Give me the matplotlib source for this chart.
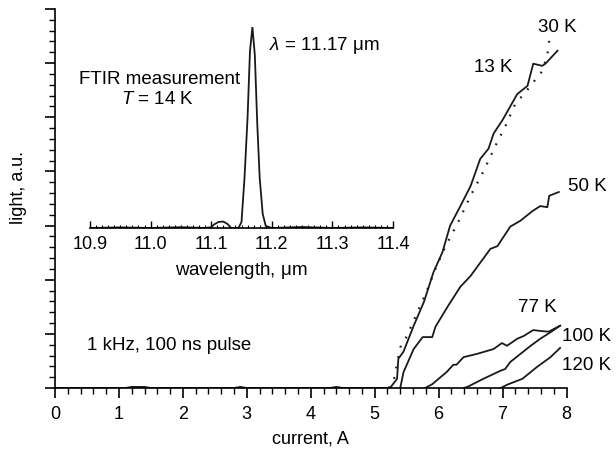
import matplotlib
matplotlib.use("Agg")
import matplotlib.pyplot as plt
from matplotlib.ticker import MultipleLocator

plt.rcParams['font.family'] = ['Liberation Sans', 'DejaVu Sans']
plt.rcParams['mathtext.fontset'] = 'custom'
plt.rcParams['mathtext.rm'] = 'Liberation Sans'
plt.rcParams['mathtext.it'] = 'Liberation Sans:italic'

# ---- data: light vs current ----
base_x = [0.0, 1.1, 1.2, 1.4, 1.5, 2.8, 2.9, 3.0, 4.3, 4.4, 4.5, 5.2]
base_y = [0.0, 0.0, 0.02, 0.02, 0.0, 0.0, 0.02, 0.0, 0.0, 0.02, 0.0, 0.0]

k13_x = [5.24, 5.35, 5.37, 5.45, 5.61, 5.77, 5.92, 6.06, 6.18, 6.34, 6.50, 6.65,
         6.78, 6.86, 7.00, 7.23, 7.39, 7.48, 7.62, 7.67, 7.86]
k13_y = [0.00, 0.17, 0.54, 0.67, 1.15, 1.59, 2.14, 2.51, 3.00, 3.36, 3.73, 4.23,
         4.42, 4.70, 4.95, 5.43, 5.58, 5.99, 5.95, 5.99, 6.23]

k30_x = [5.22, 5.30, 5.35, 5.40, 5.50, 5.65, 5.80, 5.95, 6.10, 6.30, 6.50, 6.70,
         6.90, 7.05, 7.20, 7.35, 7.45, 7.55, 7.62, 7.70, 7.73]
k30_y = [0.00, 0.15, 0.45, 0.75, 0.95, 1.35, 1.75, 2.20, 2.60, 3.05, 3.55, 4.00,
         4.50, 4.85, 5.25, 5.45, 5.60, 5.75, 5.85, 6.15, 6.42]

k50_x = [5.40, 5.45, 5.61, 5.75, 5.90, 5.95, 6.15, 6.34, 6.50, 6.81, 6.92, 7.12,
         7.28, 7.47, 7.59, 7.70, 7.73, 7.88]
k50_y = [0.00, 0.29, 0.72, 0.94, 0.94, 1.13, 1.52, 1.87, 2.07, 2.57, 2.62, 2.98,
         3.09, 3.27, 3.36, 3.34, 3.55, 3.62]

k77_x = [5.79, 5.90, 6.13, 6.23, 6.28, 6.39, 6.60, 6.86, 6.99, 7.07, 7.23, 7.33,
         7.48, 7.62, 7.72, 7.90]
k77_y = [0.00, 0.07, 0.30, 0.43, 0.43, 0.57, 0.63, 0.72, 0.83, 0.78, 0.91, 0.96,
         1.07, 1.05, 1.04, 1.15]

k100_x = [6.39, 6.45, 6.70, 6.97, 7.04, 7.12, 7.28, 7.44, 7.59, 7.75, 7.90]
k100_y = [0.00, 0.02, 0.17, 0.32, 0.35, 0.48, 0.63, 0.78, 0.91, 1.03, 1.15]

k120_x = [6.97, 7.07, 7.31, 7.54, 7.75, 7.90]
k120_y = [0.00, 0.06, 0.17, 0.39, 0.57, 0.74]

# ---- data: FTIR spectrum ----
wl = [10.90, 10.95, 11.00, 11.05, 11.09, 11.100, 11.105, 11.112, 11.120, 11.127,
      11.133, 11.145, 11.150, 11.155, 11.160, 11.164, 11.168, 11.172, 11.176,
      11.180, 11.185, 11.190, 11.20, 11.25, 11.30, 11.35, 11.40]
spec = [0.0, 0.003, 0.0, 0.004, 0.0, 0.004, 0.018, 0.03, 0.032, 0.02,
        0.0, 0.0, 0.03, 0.25, 0.55, 0.88, 1.0, 0.86, 0.52, 0.25, 0.07, 0.01,
        0.0, 0.005, 0.0, 0.003, 0.0]

fig = plt.figure(figsize=(6.16, 4.52), dpi=100)
ax = fig.add_axes([55/616, 1-389/452, (566.5-55)/616, (389-10)/452])

lw = 1.3
col = '#1a1a1a'
ax.plot(base_x, base_y, color=col, lw=lw)
ax.plot(k13_x, k13_y, color=col, lw=lw)
ax.plot(k30_x, k30_y, color=col, lw=1.6, linestyle=(0, (0.8, 4)))
ax.plot(k50_x, k50_y, color=col, lw=lw)
ax.plot(k77_x, k77_y, color=col, lw=lw)
ax.plot(k100_x, k100_y, color=col, lw=lw)
ax.plot(k120_x, k120_y, color=col, lw=lw)

ax.set_xlim(0, 8)
ax.set_ylim(0, 7)
ax.spines['top'].set_visible(False)
ax.spines['right'].set_visible(False)
for s in ('left', 'bottom'):
    ax.spines[s].set_linewidth(1.2)
ax.xaxis.set_major_locator(MultipleLocator(1))
ax.xaxis.set_minor_locator(MultipleLocator(0.2))
ax.yaxis.set_major_locator(MultipleLocator(1))
ax.yaxis.set_minor_locator(MultipleLocator(0.2))
ax.tick_params(axis='both', which='major', length=7, width=1.2, direction='out',
               labelsize=13, pad=5)
ax.tick_params(axis='both', which='minor', length=4, width=1.0, direction='out')
ax.tick_params(axis='y', labelleft=False)
ax.set_xlabel('current, A', fontsize=13)
ax.set_ylabel('light, a.u.', fontsize=13)
ax.xaxis.set_label_coords(0.5, -(431-389)/379)
ax.yaxis.set_label_coords(-0.054, (389-188)/379)

fs = 13.5
def t(px, py, s, ha='center'):
    fig.text(px/616, 1-py/452, s, fontsize=fs, ha=ha, va='center')

t(557, 28, '30 K')
t(493, 68, '13 K')
t(587, 187, '50 K')
t(537, 307, '77 K')
t(587, 337, '100 K')
t(587, 366, '120 K')
t(87, 345, '1 kHz, 100 ns pulse', ha='left')
t(160, 80, 'FTIR measurement')
t(158, 99, r'$T$ = 14 K')
t(269, 46, r'$\lambda$ = 11.17 $\mathregular{\mu}$m', ha='left')

# ---- inset ----
ins = fig.add_axes([90/616, 1-229/452, (393-90)/616, (229-28)/452])
ins.patch.set_alpha(0)
ins.plot(wl, spec, color=col, lw=lw)
ins.set_xlim(10.9, 11.4)
ins.set_ylim(0, 1.0)
for s in ('top', 'right', 'left'):
    ins.spines[s].set_visible(False)
ins.spines['bottom'].set_linewidth(1.2)
ins.set_yticks([])
ins.set_xticks([10.9, 11.0, 11.1, 11.2, 11.3, 11.4])
ins.set_xticklabels(['10.9', '11.0', '11.1', '11.2', '11.3', '11.4'])
ins.xaxis.set_minor_locator(MultipleLocator(0.01))
ins.tick_params(axis='x', which='major', direction='in', length=5, width=1.0,
                labelsize=13, pad=5)
ins.tick_params(axis='x', which='minor', direction='in', length=2.5, width=0.8)
ins.set_xlabel(r'wavelength, $\mathregular{\mu}$m', fontsize=13.5, labelpad=5)

fig.savefig('out.png', dpi=100)
